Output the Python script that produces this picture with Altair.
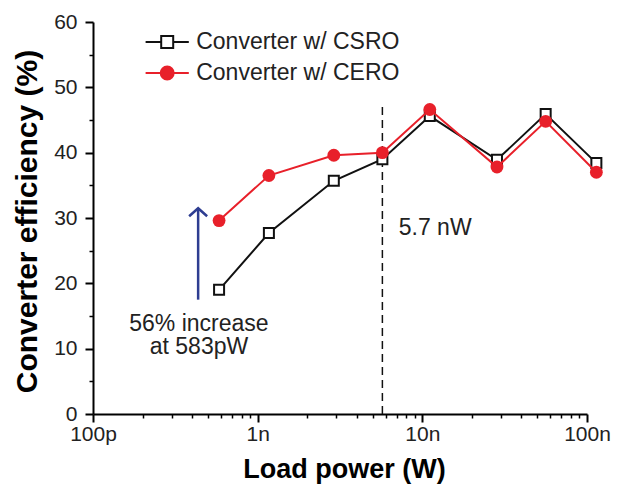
import altair as alt
import pandas as pd

# ---- data ----
series_names = ["Converter w/ CSRO", "Converter w/ CERO"]
power = [5.83e-10, 1.17e-9, 2.9e-9, 5.72e-9, 1.11e-8, 2.84e-8, 5.61e-8, 1.14e-7]
csro = [19.0, 27.7, 35.7, 39.0, 45.6, 38.9, 45.9, 38.4]
cero = [29.6, 36.5, 39.6, 40.0, 46.6, 37.8, 44.8, 37.0]

x_major = [1e-10, 1e-9, 1e-8, 1e-7]
x_tick_labels = ["100p", "1n", "10n", "100n"]
x_minor = [m * 10.0 ** e for e in (-10, -9, -8) for m in range(2, 10)]
y_major = [0, 10, 20, 30, 40, 50, 60]
y_minor = [5, 15, 25, 35, 45, 55]

marker_power = [5.72e-9]
marker_top = [47.3]
marker_label = ["5.7 nW"]
marker_label_pos = [(7.19e-9, 27.4)]

arrow_power = [4.35e-10]
arrow_bottom = [17.5]
arrow_top = [31.5]
note_lines = ["56% increase", "at 583pW"]
note_power = [4.4e-10, 4.4e-10]
note_y = [12.7, 9.2]

RED = "#e8202a"
BLACK = "#111111"
BLUE = "#2e3d91"
FONT = "Liberation Sans"

rows = []
for s, vals in zip(series_names, [csro, cero]):
    for p, v in zip(power, vals):
        rows.append({"series": s, "power": p, "eff": v})
df = pd.DataFrame(rows)

xs = alt.Scale(type="log", domain=[1e-10, 1e-7])
ys = alt.Scale(domain=[0, 60])

label_expr = "[" + ",".join("'%s'" % t for t in x_tick_labels) + "][round(log(datum.value)/LN10)+10]"

x_axis = alt.Axis(values=x_major, labelExpr=label_expr, title="Load power (W)",
                  titleFont=FONT, titleFontSize=27, titleFontWeight="bold", titleColor="black",
                  titleX=251, titleY=63, titleAlign="center", titleBaseline="alphabetic",
                  labelFont=FONT, labelFontSize=21, labelColor="#222", labelPadding=1,
                  tickSize=8, tickWidth=2, tickColor="black", domainColor="black",
                  domainWidth=2, grid=False, orient="bottom", labelFlush=False)
y_axis = alt.Axis(values=y_major, title="Converter  efficiency (%)",
                  titleFont=FONT, titleFontSize=30, titleFontWeight="bold", titleColor="black",
                  titleX=-66, titleY=199, titleAlign="center", titleBaseline="middle", titleAngle=-90,
                  labelFont=FONT, labelFontSize=21, labelColor="#222", labelPadding=8,
                  tickSize=8, tickWidth=2, tickColor="black", domainColor="black",
                  domainWidth=2, grid=False, orient="left")
x_minor_axis = alt.Axis(values=x_minor, labels=False, title=None, tickSize=4, tickWidth=1.5,
                        tickColor="black", domain=False, grid=False, orient="bottom")
y_minor_axis = alt.Axis(values=y_minor, labels=False, title=None, tickSize=4, tickWidth=1.5,
                        tickColor="black", domain=False, grid=False, orient="left")

base = alt.Chart(df)

csro_line = base.transform_filter(alt.datum.series == series_names[0]).mark_line(
    color=BLACK, strokeWidth=2).encode(
    x=alt.X("power:Q", scale=xs, axis=x_axis),
    y=alt.Y("eff:Q", scale=ys, axis=y_axis))
csro_pts = base.transform_filter(alt.datum.series == series_names[0]).mark_point(
    shape="square", size=100, filled=True, fill="white", stroke=BLACK, strokeWidth=2, opacity=1).encode(
    x=alt.X("power:Q", scale=xs, axis=None),
    y=alt.Y("eff:Q", scale=ys, axis=None))
cero_line = base.transform_filter(alt.datum.series == series_names[1]).mark_line(
    color=RED, strokeWidth=2).encode(
    x=alt.X("power:Q", scale=xs, axis=None),
    y=alt.Y("eff:Q", scale=ys, axis=None))
cero_pts = base.transform_filter(alt.datum.series == series_names[1]).mark_point(
    shape="circle", size=165, filled=True, fill=RED, stroke=RED, strokeWidth=0, opacity=1).encode(
    x=alt.X("power:Q", scale=xs, axis=None),
    y=alt.Y("eff:Q", scale=ys, axis=None))

marker_df = pd.DataFrame({"x": marker_power, "y": [0], "y2": marker_top})
dashed = alt.Chart(marker_df).mark_rule(color=BLACK, strokeWidth=1.5, strokeDash=[8, 5]).encode(
    x=alt.X("x:Q", scale=xs, axis=None),
    y=alt.Y("y:Q", scale=ys, axis=None), y2="y2:Q")

mlabel_df = pd.DataFrame({"x": [p[0] for p in marker_label_pos], "y": [p[1] for p in marker_label_pos],
                          "t": marker_label})
mlabel = alt.Chart(mlabel_df).mark_text(font=FONT, fontSize=23, color="#222", align="left",
                                        baseline="alphabetic").encode(
    x=alt.X("x:Q", scale=xs, axis=None), y=alt.Y("y:Q", scale=ys, axis=None), text="t:N")

arrow_df = pd.DataFrame({"x": arrow_power, "y": arrow_bottom, "y2": arrow_top})
arrow_shaft = alt.Chart(arrow_df).mark_rule(color=BLUE, strokeWidth=2.5).encode(
    x=alt.X("x:Q", scale=xs, axis=None), y=alt.Y("y:Q", scale=ys, axis=None), y2="y2:Q")
arrow_head = alt.Chart(arrow_df).mark_point(shape="M-1,0.9L0,0L1,0.9", size=324, filled=False,
                                            stroke=BLUE, strokeWidth=2.5, opacity=1).encode(
    x=alt.X("x:Q", scale=xs, axis=None), y=alt.Y("y2:Q", scale=ys, axis=None))

note_df = pd.DataFrame({"x": note_power, "y": note_y, "t": note_lines})
note = alt.Chart(note_df).mark_text(font=FONT, fontSize=23, color="#222", align="center",
                                    baseline="alphabetic").encode(
    x=alt.X("x:Q", scale=xs, axis=None), y=alt.Y("y:Q", scale=ys, axis=None), text="t:N")

# legend (from an empty layer with explicit scale domains) + minor ticks
sq_path = "M-3.6,0H-1M1,0H3.6M-1,-1H1V1H-1Z"
ci_path = "M-3.6,0H3.6M1.08,0A1.08,1.08,0,1,1,-1.08,0A1.08,1.08,0,1,1,1.08,0Z"
leg = alt.Legend(title=None, orient="none", legendX=62.7, legendY=8.5, labelFont=FONT,
                 labelFontSize=23, labelColor="#222", symbolSize=144, symbolStrokeWidth=2,
                 rowPadding=7, labelOffset=17.5, padding=0, symbolOpacity=1, labelLimit=0)
legend_layer = base.transform_filter("false").mark_point(opacity=1, strokeWidth=2).encode(
    x=alt.X("power:Q", scale=xs, axis=x_minor_axis),
    y=alt.Y("eff:Q", scale=ys, axis=y_minor_axis),
    shape=alt.Shape("series:N", scale=alt.Scale(domain=series_names, range=[sq_path, ci_path]), legend=leg),
    fill=alt.Fill("series:N", scale=alt.Scale(domain=series_names, range=["white", RED]), legend=leg),
    stroke=alt.Stroke("series:N", scale=alt.Scale(domain=series_names, range=[BLACK, RED]), legend=leg))

chart = alt.layer(
    dashed, arrow_shaft, arrow_head, note, mlabel,
    csro_line, csro_pts, cero_line, cero_pts, legend_layer
).resolve_axis(x="independent", y="independent").properties(
    width=494, height=392,
    padding={"left": 85, "top": 14, "right": 30, "bottom": 71},
    autosize=alt.AutoSizeParams(type="none"),
    background="white",
).configure_view(stroke=None)

chart.save("out.html", embed_options={"renderer": "svg", "actions": False})
